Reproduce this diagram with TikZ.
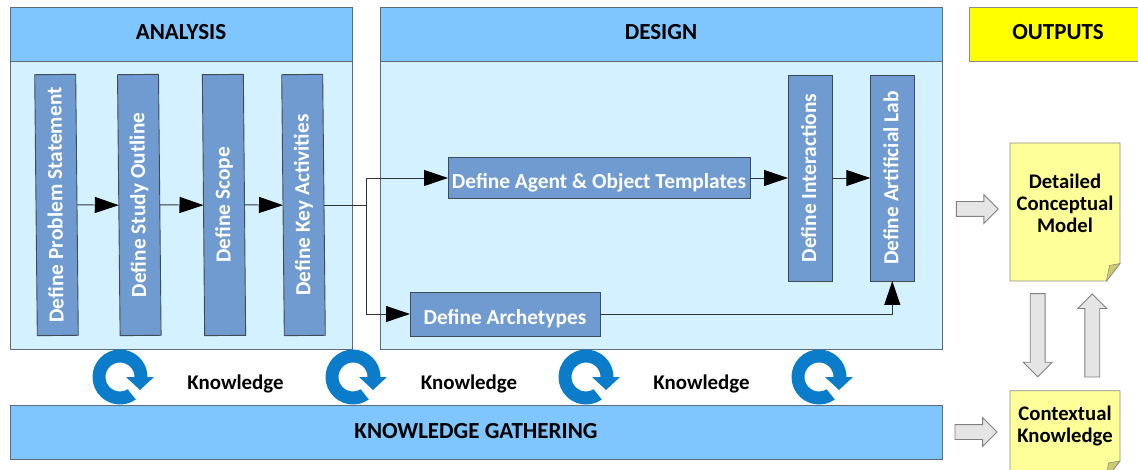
\documentclass[tikz,border=0pt]{standalone}
\usepackage{fontspec}
\setmainfont{Carlito}
\usetikzlibrary{arrows.meta,shapes.arrows}
\definecolor{hdr}{HTML}{7FC6FF}
\definecolor{bodyc}{HTML}{D4F1FF}
\definecolor{stepc}{HTML}{6F9BD0}
\definecolor{edgec}{HTML}{5B6B7B}
\definecolor{ringc}{HTML}{0A7CC9}
\definecolor{notec}{HTML}{FFFF99}
\definecolor{foldc}{HTML}{CDCB6E}
\definecolor{outy}{HTML}{FFFF00}
\tikzset{
  panel/.style={draw=edgec,line width=0.9pt,fill=bodyc,inner sep=0,outer sep=0},
  header/.style={draw=edgec,line width=0.9pt,fill=hdr,inner sep=0,outer sep=0,font=\bfseries\fontsize{23}{26}\selectfont,text=black},
  stepbox/.style={draw=edgec!70!black,line width=0.9pt,fill=stepc,inner sep=0,outer sep=0,text=white,font=\bfseries\fontsize{21.4}{24}\selectfont},
  link/.style={draw=black!80,line width=0.9pt,-{Triangle[length=24pt,width=16pt,color=black]}},
  plainlink/.style={draw=black!80,line width=0.9pt},
  blockarrow/.style={single arrow,draw=black!50,line width=0.9pt,fill=black!10,inner sep=0,outer sep=0,minimum height=42pt,single arrow head extend=7pt,anchor=tip},
  note/.style={draw=black!45,line width=0.9pt,fill=notec,inner sep=0,outer sep=0},
  notetext/.style={font=\bfseries\fontsize{20.7}{22}\selectfont,align=center,text=black,inner sep=0},
  know/.style={font=\bfseries\fontsize{20.9}{24}\selectfont,text=black,inner sep=0},
  pics/cyc/.style={code={
    \begin{scope}[x=1pt,y=1pt]
      \fill[ringc] (-55:27.5) arc[start angle=-55,end angle=-360,radius=27.5]
        -- (34,0) -- (20,-13) -- (6,0) -- (14.5,0)
        arc[start angle=-360,end angle=-58,radius=14.5] -- cycle;
    \end{scope}}}
}
\newcommand{\arrowbody}{\rule{0pt}{14pt}}
\newcommand{\lowered}[2]{\raisebox{-#1pt}[0pt][0pt]{#2}}
\begin{document}
\begin{tikzpicture}[x=1pt,y=-1pt]
\useasboundingbox (0,0) rectangle (1138,470);
\clip (0,0) rectangle (1138,470);
% panels
\node[panel,minimum width=342pt,minimum height=288pt] (anaBody) at (181,205) {};
\node[header,minimum width=342pt,minimum height=54pt] (anaHead) at (181,34) {\lowered{5.2}{ANALYSIS}};
\node[panel,minimum width=562pt,minimum height=288pt] (desBody) at (661,205) {};
\node[header,minimum width=562pt,minimum height=54pt] (desHead) at (661,34) {\lowered{5.2}{DESIGN}};
\node[draw=black!45,line width=0.9pt,fill=outy,inner sep=0,outer sep=0,minimum width=172pt,minimum height=54pt,font=\bfseries\fontsize{23}{26}\selectfont] (outHead) at (1055,34) {\hspace*{6pt}\lowered{5.2}{OUTPUTS}};
\node[header,minimum width=932pt,minimum height=54pt] (kg) at (476,432) {\lowered{6.3}{KNOWLEDGE GATHERING}};
% cycles
\pic at (120,377) {cyc};
\pic at (353,377) {cyc};
\pic at (586,377) {cyc};
\pic at (819,377) {cyc};
\node[know] (k1) at (235.5,384) {Knowledge};
\node[know] (k2) at (469,384) {Knowledge};
\node[know] (k3) at (701.5,384) {Knowledge};
% steps
\node[stepbox,rotate=90.57,minimum width=261pt,minimum height=41pt] (s1) at (56.5,205) {\lowered{6}{Define Problem Statement}};
\node[stepbox,rotate=90.57,minimum width=261pt,minimum height=41pt] (s2) at (139.3,205) {\lowered{6}{Define Study Outline}};
\node[stepbox,rotate=90.5,minimum width=261pt,minimum height=41pt] (s3) at (224,205) {\lowered{6}{Define Scope}};
\node[stepbox,rotate=90.57,minimum width=261pt,minimum height=41pt] (s4) at (303.5,205) {\lowered{6}{Define Key Activities}};
\node[stepbox,minimum width=302pt,minimum height=41pt] (agent) at (599,178) {\lowered{10.5}{Define Agent \& Object Templates}};
\node[stepbox,minimum width=190pt,minimum height=44pt] (arch) at (505,314) {\lowered{10}{Define Archetypes}};
\node[stepbox,rotate=90,minimum width=206pt,minimum height=44pt] (inter) at (810,178) {\lowered{6}{Define Interactions}};
\node[stepbox,rotate=90,minimum width=206pt,minimum height=44pt] (lab) at (892.3,178) {\lowered{6}{Define Artificial Lab}};
\coordinate (trunk) at (366,205);
% connectors
\draw[link] (s1.south) -- (s2.north);
\draw[link] (s2.south) -- (s3.north);
\draw[link] (s3.south) -- (s4.north);
\draw[plainlink] (s4.south |- trunk) -- (trunk);
\draw[link] (trunk) |- (agent.west);
\draw[link] (trunk) |- (arch.west);
\draw[link] (agent.east) -- (inter.north);
\draw[link] (inter.south) -- (lab.north);
\draw[link] (arch.east) -| (lab.west);
% notes
\draw[note] (1010,143) -- (1120,143) -- (1120,263.5) -- (1106.5,281) -- (1010,281) -- cycle;
\fill[foldc,draw=black!45,line width=0.6pt] (1106.5,281) -- (1109.5,265.5) -- (1120,263.5) -- cycle;
\draw[note] (1010,390.7) -- (1120,390.7) -- (1120,461) -- (1105.7,479) -- (1010,479) -- cycle;
\fill[foldc,draw=black!45,line width=0.6pt] (1105.7,479) -- (1108.5,463) -- (1120,461) -- cycle;
\node[notetext] (dcm) at (1065,203) {Detailed\\Conceptual\\Model};
\node[notetext] (ck) at (1065,425.5) {Contextual\\Knowledge};
% block arrows
\node[blockarrow] (a1) at (998.3,209) {\arrowbody};
\node[blockarrow] (a2) at (997,432) {\arrowbody};
\node[blockarrow,rotate=-90,minimum height=83pt] (a3) at (1037.7,376.7) {\arrowbody};
\node[blockarrow,rotate=90,minimum height=83pt] (a4) at (1092.3,294) {\arrowbody};
\end{tikzpicture}
\end{document}
